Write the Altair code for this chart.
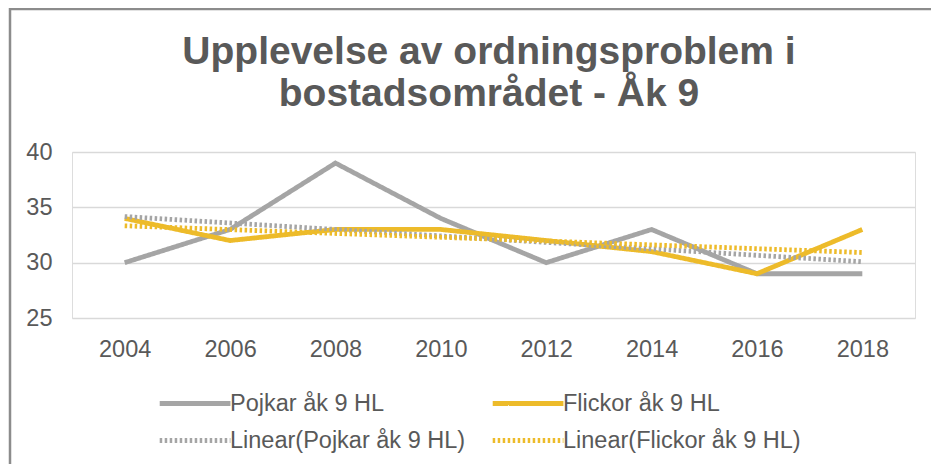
import altair as alt
import pandas as pd

years = [2004, 2006, 2008, 2010, 2012, 2014, 2016, 2018]
pojkar = [30, 33, 39, 34, 30, 33, 29, 29]
flickor = [34, 32, 33, 33, 32, 31, 29, 33]
series_names = ["Pojkar åk 9 HL", "Flickor åk 9 HL"]
legend_order = ["Pojkar åk 9 HL", "Flickor åk 9 HL",
                "Linear(Pojkar åk 9 HL)", "Linear(Flickor åk 9 HL)"]
y_ticks = [25, 30, 35, 40]
title_lines = ["Upplevelse av ordningsproblem i", "bostadsområdet - Åk 9"]

GRAY = "#A5A5A5"
GOLD = "#EDBB2A"
TEXT = "#595959"
FONT = "Liberation Sans"

rows = []
for name, vals in zip(series_names, [pojkar, flickor]):
    for yr, v in zip(years, vals):
        rows.append({"year": yr, "value": v, "series": name})
df = pd.DataFrame(rows)

W, H = 843, 166
PL, PT = 64, 144
TOTW, TOTH = 923, 456

color_scale = alt.Scale(domain=legend_order, range=[GRAY, GOLD, GRAY, GOLD])
dash_scale = alt.Scale(domain=legend_order, range=[[1, 0], [1, 0], [2.5, 2.5], [2.5, 2.5]])
width_scale = alt.Scale(domain=legend_order, range=[4.8, 4.8, 1.8, 1.8])

legend = alt.Legend(
    title=None, orient="none", legendX=85, legendY=237, columns=2, direction="horizontal",
    values=legend_order,
    columnPadding=17, rowPadding=11, symbolType="M-1,0H5", symbolSize=556,
    labelFontSize=23.5, labelColor=TEXT, labelFont=FONT, labelOffset=44,
    labelLimit=400, padding=0,
)

x_enc = alt.X("year:Q", scale=alt.Scale(domain=[2003, 2019], nice=False, zero=False),
              axis=alt.Axis(values=years, format="d", grid=False, domain=False, ticks=False,
                            labelFontSize=23.5, labelColor=TEXT, labelFont=FONT,
                            labelPadding=19, title=None))
y_enc = alt.Y("value:Q", scale=alt.Scale(domain=[25, 40], nice=False, zero=False),
              axis=alt.Axis(values=y_ticks, grid=True, gridColor="#D9D9D9", gridWidth=1.5,
                            domain=False, ticks=False, labelFontSize=23.5,
                            labelColor=TEXT, labelFont=FONT, labelPadding=20, title=None))

enc = dict(
    x=x_enc, y=y_enc,
    color=alt.Color("series:N", scale=color_scale, legend=legend),
    strokeDash=alt.StrokeDash("series:N", scale=dash_scale, legend=legend),
    strokeWidth=alt.StrokeWidth("series:N", scale=width_scale, legend=legend),
)

lines = alt.Chart(df).mark_line().encode(
    order=alt.Order("year:Q"), **enc
)

trend = alt.Chart(df).transform_regression(
    "year", "value", groupby=["series"], method="linear", extent=[2004, 2018]
).transform_calculate(
    series='"Linear(" + datum.series + ")"'
).mark_line().encode(**enc)

frame_df = pd.DataFrame({"a": [0]})
frame_left = alt.Chart(frame_df).mark_rule(color="#8C8C8C", strokeWidth=2.5).encode(
    x=alt.value(-62), y=alt.value(-144), y2=alt.value(TOTH - PT + 10)
)
frame_top = alt.Chart(frame_df).mark_rule(color="#8C8C8C", strokeWidth=2.5).encode(
    y=alt.value(-143), x=alt.value(-62), x2=alt.value(TOTW - PL + 10)
)

title1 = alt.Chart(pd.DataFrame({"t": [title_lines[0]]})).mark_text(
    font=FONT, fontSize=39, fontWeight="bold", color=TEXT, align="center",
    baseline="alphabetic"
).encode(text="t:N", x=alt.value(417), y=alt.value(-88))
title2 = alt.Chart(pd.DataFrame({"t": [title_lines[1]]})).mark_text(
    font=FONT, fontSize=39, fontWeight="bold", color=TEXT, align="center",
    baseline="alphabetic"
).encode(text="t:N", x=alt.value(417), y=alt.value(-46))

chart = alt.layer(frame_left, frame_top, title1, title2, lines, trend).properties(
    width=W, height=H,
    autosize=alt.AutoSizeParams(type="none"),
    padding={"left": PL, "top": PT, "right": TOTW - PL - W, "bottom": TOTH - PT - H},
).configure_view(stroke=None).configure(background="white")

chart.save("out.html", embed_options={"renderer": "svg", "actions": False})
